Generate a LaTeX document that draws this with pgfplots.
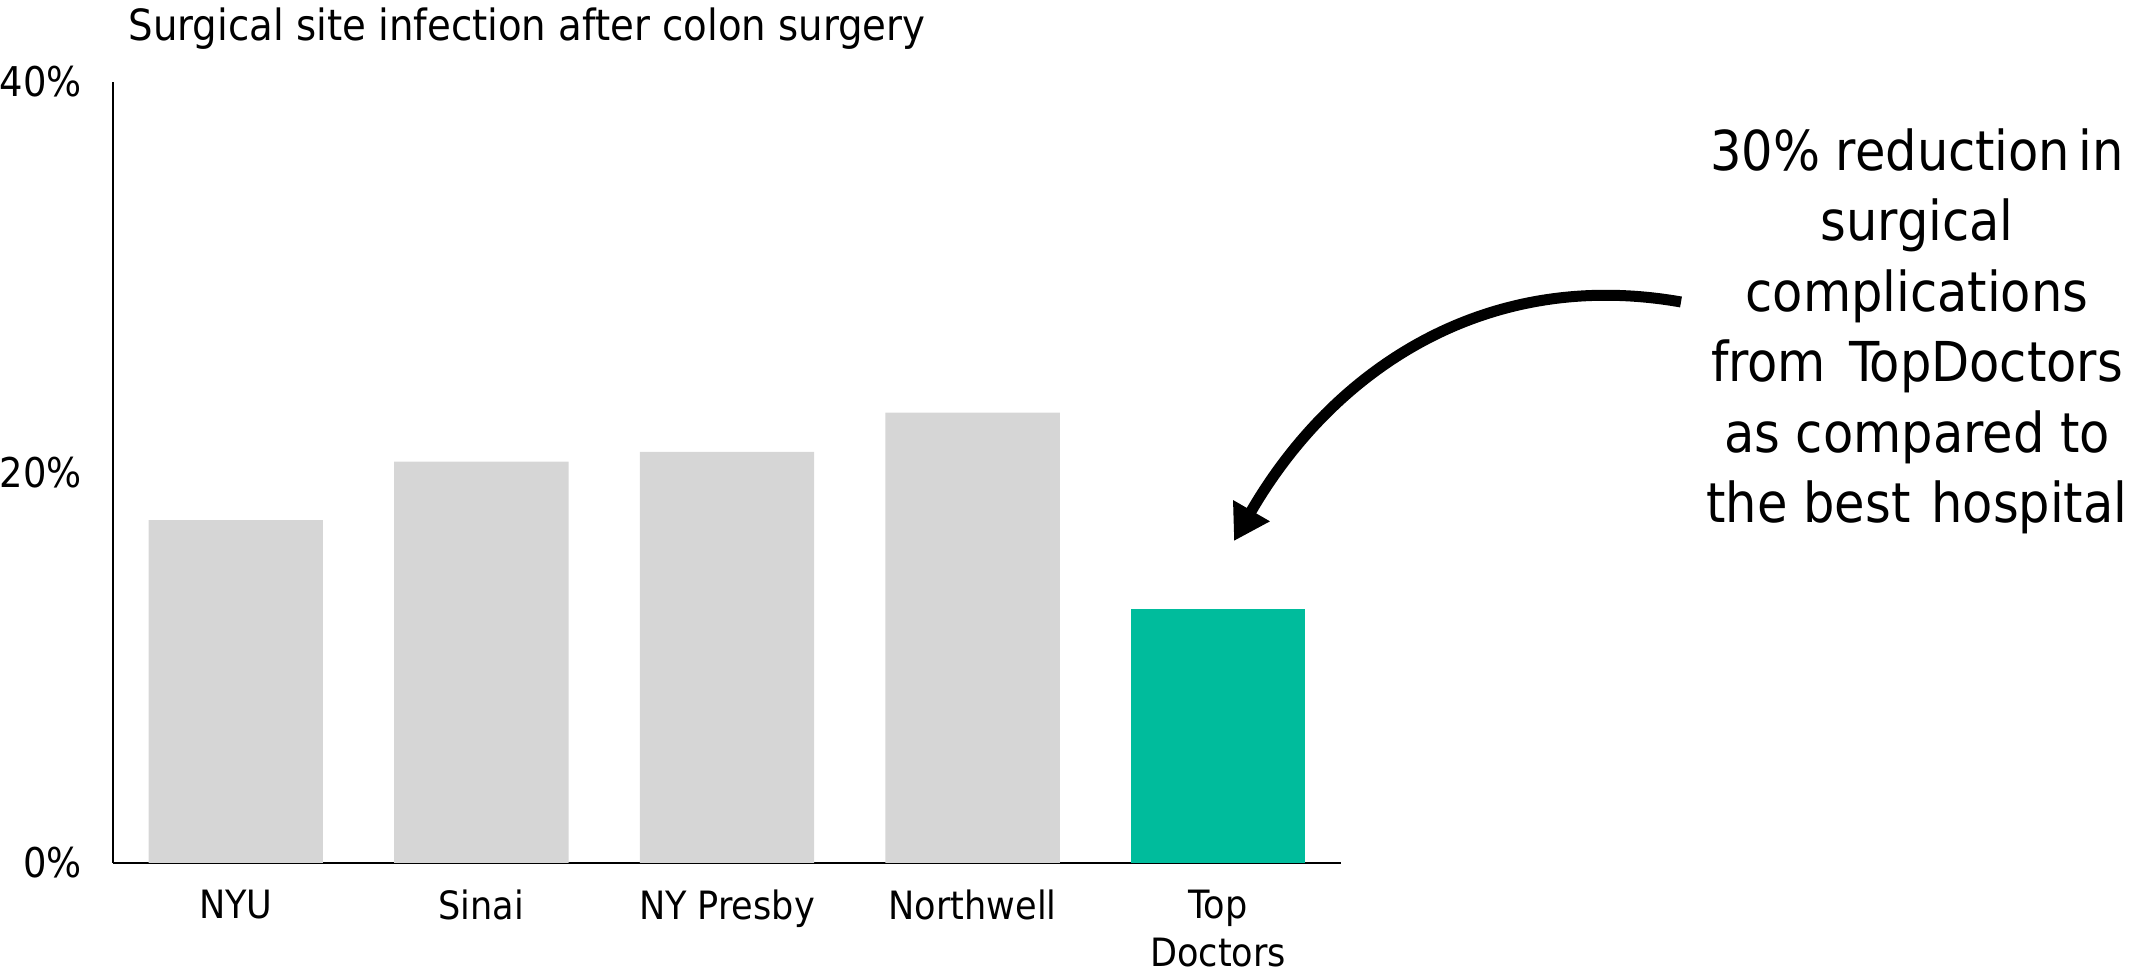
\documentclass[border=0pt]{standalone}
\usepackage{pgfplots}
\pgfplotsset{compat=1.18}
\usepackage{fontspec}
\setmainfont{DejaVu Sans Condensed}
\usetikzlibrary{arrows.meta}
\definecolor{bargrey}{HTML}{D6D6D6}
\definecolor{teal}{HTML}{00BC9C}
\begin{document}
\begin{tikzpicture}
\useasboundingbox (-22.6pt,-22.4pt) rectangle ++(426.2pt,195pt);
\begin{axis}[
    scale only axis,
    width=245.6pt,
    height=156.2pt,
    xmin=-0.5, xmax=4.5,
    ymin=0, ymax=40,
    axis x line*=bottom,
    axis y line*=left,
    axis line style={-, line width=0.5pt},
    major tick length=0pt,
    xtick={0,1,2,3,4},
    xticklabels={NYU,Sinai,NY Presby,Northwell,{Top\\Doctors}},
    xticklabel style={align=center, yshift=-4.2pt, inner sep=1pt, font=\fontsize{7.8}{9.6}\selectfont},
    ytick={0,20,40},
    yticklabels={0\%,20\%,40\%},
    yticklabel style={xshift=-2.7pt, font=\fontsize{8.2}{9}\selectfont},
    ybar,
    bar width=0.71,
    bar shift=0pt,
    clip=false,
]
\addplot[fill=bargrey, draw=none] coordinates {(0,17.56) (1,20.56) (2,21.05) (3,23.07)};
\addplot[fill=teal, draw=none] coordinates {(4,13.03)};
\end{axis}
\node[anchor=base west, font=\fontsize{8.6}{10}\selectfont] at (-0.4pt,164.4pt) {Surgical site infection after colon surgery};
\node[align=center, anchor=north, font=\fontsize{11}{14.1}\selectfont] at (360.8pt,150.4pt)
  {30\% reduction\hspace{0.15em}in\\surgical\\complications\\from\hspace{0.42em}TopDoctors\\as compared to\\the best\hspace{0.38em}hospital};
\draw[line width=2.2pt, -{Triangle[length=7pt,width=8pt]}] (313.6pt,112.2pt) to[out=170,in=60] (224.2pt,64.4pt);
\end{tikzpicture}
\end{document}
